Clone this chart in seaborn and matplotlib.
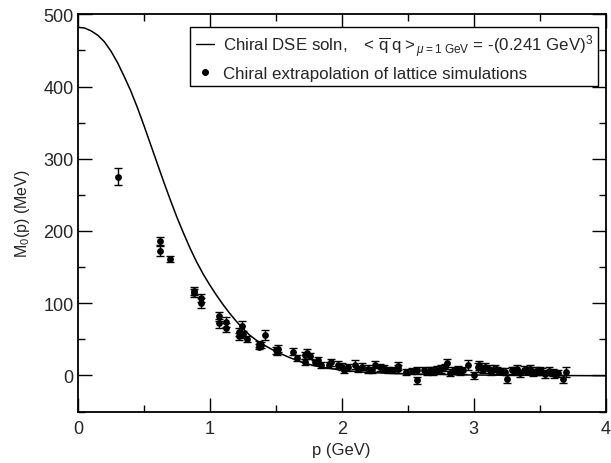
import matplotlib
matplotlib.use("Agg")
import matplotlib.pyplot as plt
import seaborn as sns
import numpy as np
import pandas as pd
from matplotlib.lines import Line2D
from matplotlib.ticker import MultipleLocator

# DSE curve
p_curve = [0.0, 0.05, 0.1, 0.15, 0.2, 0.25, 0.3, 0.35, 0.4, 0.45, 0.5, 0.55, 0.6,
           0.65, 0.7, 0.75, 0.8, 0.85, 0.9, 0.95, 1.0, 1.05, 1.1, 1.15, 1.2, 1.25,
           1.3, 1.35, 1.4, 1.5, 1.6, 1.7, 1.8, 1.9, 2.0, 2.2, 2.5, 3.0, 3.5, 4.0]
m_curve = [482, 481, 477, 471, 462, 449, 433, 414, 394, 371, 346, 320, 294,
           268, 243, 219, 197, 176, 157, 140, 125, 111, 98, 86, 75, 65,
           56, 49, 43, 33, 25, 18, 13, 10, 7, 4, 2, 0.5, 0, -0.5]

# Lattice points
p_lat = [0.30, 0.62, 0.62, 0.70, 0.88, 0.88, 0.93, 0.93,
         1.07, 1.07, 1.12, 1.12, 1.22, 1.24, 1.22, 1.25, 1.28,
         1.37, 1.37, 1.39, 1.42, 1.50, 1.52, 1.51, 1.63, 1.66,
         1.72, 1.74, 1.72, 1.76, 1.82, 1.84, 1.80, 1.92, 1.97, 1.90,
         2.00, 2.02, 2.05, 2.10, 2.12, 2.15, 2.20, 2.23, 2.25, 2.29, 2.32,
         2.35, 2.39, 2.43, 2.43, 2.49, 2.53, 2.57, 2.57, 2.62, 2.65,
         2.67, 2.69, 2.72, 2.75, 2.78, 2.80, 2.82, 2.85, 2.88, 2.90,
         2.92, 2.96, 3.00, 3.03, 3.04, 3.07, 3.09, 3.12, 3.13, 3.16, 3.18,
         3.21, 3.24, 3.25, 3.29, 3.31, 3.33, 3.35, 3.38, 3.41, 3.43, 3.45,
         3.47, 3.50, 3.52, 3.54, 3.57, 3.60, 3.61, 3.64, 3.68, 3.70]
m_lat = [275, 186, 172, 161, 117, 114, 107, 100,
         82, 72, 74, 66, 60, 68, 54, 57, 50,
         44, 40, 42, 56, 35, 37, 32, 33, 24,
         28, 31, 19, 27, 21, 14, 18, 18, 15, 14,
         12, 8, 11, 15, 9, 12, 9, 7, 15, 11, 10,
         7, 8, 9, 13, 5, 6, 7, -7, 7, 5,
         7, 6, 8, 9, 11, 17, 4, 7, 8, 5,
         7, 14, 0, 11, 14, 8, 12, 9, 5, 10, 7,
         6, 5, -5, 7, 6, 9, 3, 8, 7, 9, 4,
         6, 7, 5, 2, 6, 4, 2, 3, -5, 5]
e_lat = [12, 6, 7, 4, 5, 5, 6, 7,
         6, 6, 7, 6, 6, 7, 5, 5, 4,
         4, 4, 4, 7, 5, 5, 4, 5, 4,
         5, 5, 4, 4, 5, 4, 4, 5, 5, 4,
         5, 4, 5, 6, 4, 5, 5, 4, 5, 5, 5,
         4, 4, 5, 5, 4, 4, 5, 5, 5, 4,
         5, 5, 5, 5, 5, 6, 5, 5, 5, 4,
         5, 7, 5, 6, 6, 5, 5, 5, 5, 5, 5,
         4, 5, 5, 5, 5, 6, 5, 5, 5, 5, 5,
         5, 5, 5, 5, 5, 5, 5, 5, 5, 7]

sns.set_theme(style="white")
plt.rcParams['font.family'] = ['Liberation Sans', 'DejaVu Sans']
plt.rcParams['mathtext.fontset'] = 'custom'
plt.rcParams['mathtext.rm'] = 'Liberation Sans'
plt.rcParams['mathtext.it'] = 'Liberation Sans:italic'
plt.rcParams['mathtext.bf'] = 'Liberation Sans:bold'

fig = plt.figure(figsize=(6.11, 4.64), dpi=100)
ax = fig.add_axes([78/611, 1-412.5/464, (605.5-78)/611, (412.5-15.3)/464])

df_c = pd.DataFrame({"p": p_curve, "M": m_curve})
df_l = pd.DataFrame({"p": p_lat, "M": m_lat, "e": e_lat})

sns.lineplot(data=df_c, x="p", y="M", ax=ax, color="black", linewidth=1.1)
ax.errorbar(df_l["p"], df_l["M"], yerr=df_l["e"], fmt="none", ecolor="black",
            elinewidth=1.0, capsize=3, capthick=1.0, zorder=3)
sns.scatterplot(data=df_l, x="p", y="M", ax=ax, color="black", s=24,
                edgecolor="black", linewidth=0, zorder=4)

ax.set_xlim(0, 4)
ax.set_ylim(-50, 500)
ax.xaxis.set_major_locator(MultipleLocator(1))
ax.xaxis.set_minor_locator(MultipleLocator(0.5))
ax.yaxis.set_major_locator(MultipleLocator(100))
ax.yaxis.set_minor_locator(MultipleLocator(50))
ax.tick_params(which="both", direction="in", top=True, right=True,
               bottom=True, left=True, color="black", width=1.0)
ax.tick_params(which="major", length=10, labelsize=13)
ax.tick_params(axis="x", which="major", pad=6)
ax.tick_params(axis="y", which="major", pad=3)
ax.tick_params(which="minor", length=5)
for s in ax.spines.values():
    s.set_color("black")
    s.set_linewidth(1.3)

ax.set_xlabel("p (GeV)", fontsize=12, labelpad=4)
ax.set_ylabel(r"M$_0$(p) (MeV)", fontsize=11.5, labelpad=8)

handles = [Line2D([], [], color="black", linewidth=1.0),
           Line2D([], [], color="black", marker="o", markersize=4, linestyle="none")]
labels = [r"Chiral DSE soln,   $<\,\overline{\mathrm{q}}\;\mathrm{q}>_{\mu=1\ \mathrm{GeV}}$ = -(0.241 GeV)$^3$",
          "Chiral extrapolation of lattice simulations"]
leg = ax.legend(handles, labels, loc="upper right", bbox_to_anchor=(0.9858, 0.968),
                borderaxespad=0, fontsize=12.2, frameon=True, fancybox=False,
                framealpha=1, edgecolor="black", handlelength=1.1, handletextpad=0.5,
                borderpad=0.3, labelspacing=0.45)
leg.get_frame().set_linewidth(1.0)

fig.savefig("out.png", dpi=100)
